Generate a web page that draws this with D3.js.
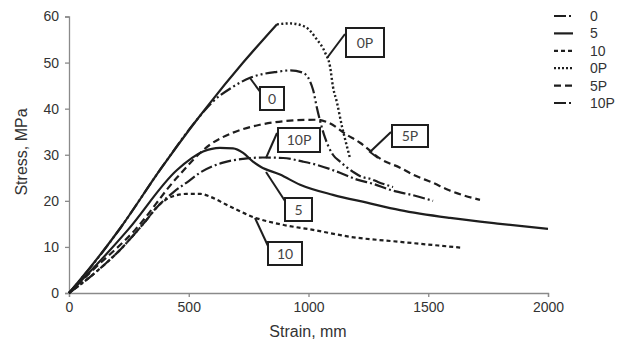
<!DOCTYPE html>
<html><head><meta charset="utf-8">
<script src="https://cdn.jsdelivr.net/npm/d3@7"></script>
<style>
html,body{margin:0;padding:0;background:#fff;}
svg{display:block;}
</style></head>
<body><svg id="chart" width="630" height="343"></svg>
<script>
// ---- data ----
const seriesNames = ["0", "5", "10", "0P", "5P", "10P"];
const strain0 = [0,100,213,380,534,600,680,756,868,923,977,1019,1035,1069,1102,1132,1186,1223,1257,1290,1353];
const stress0 = [0,6.2,14,26.7,37.6,41.5,44.6,46.7,48.0,48.3,47.8,44.1,40.2,33.7,30.0,28.5,26.3,25.2,24.8,24.1,23.0];
const strain5 = [0,100,246,451,560,630,685,727,768,800,881,965,1102,1244,1382,1591,1800,2000];
const stress5 = [0,5.3,13.7,26.7,30.7,31.5,31.4,30.4,28.5,27.4,25.7,23.5,21.3,19.6,18.0,16.3,15.0,13.9];
const strain10 = [0,100,225,310,380,434,490,550,589,660,768,893,1019,1173,1382,1645];
const stress10 = [0,4,10,15,19.3,21.0,21.5,21.5,20.9,19.1,16.5,14.8,13.7,12.2,11.1,9.8];
const strain0P = [0,100,213,380,534,576,727,868,923,985,1035,1069,1090,1102,1119,1140,1161,1173];
const stress0P = [0,6.3,14,26.7,37.6,40.4,50,58.3,58.5,57.8,55,52.2,49.1,44.8,41.3,36.1,31.7,29.3];
const strain5P = [0,100,276,450,589,685,797,923,1035,1081,1161,1215,1307,1382,1436,1520,1582,1716];
const stress5P = [0,5,13.7,25,32.2,34.8,36.5,37.4,37.6,37.0,34.3,32.6,28.9,27.2,25.7,23.9,22.4,20.2];
const strain10P = [0,100,225,310,380,434,500,547,643,727,810,894,977,1035,1131,1203,1269,1340,1445,1520];
const stress10P = [0,4,10,15,19.3,21.8,24.3,26.1,28.3,29.1,29.4,29.3,28.5,27.8,26.1,24.6,23.7,22.4,21.1,20.0];
const xTicks = [0, 500, 1000, 1500, 2000];
const yTicks = [0, 10, 20, 30, 40, 50, 60];
const calloutLabels = ["0P", "0", "10P", "5P", "5", "10"];

// ---- styles ----
const dashes = {
  "0": "12,3,2,3,2,3",
  "5": null,
  "10": "4,3",
  "0P": "2,2.4",
  "5P": "7,4",
  "10P": "12,3,2,3"
};
const legendDash = {"0":"12,3,2,3","5":null,"10":"4,3","0P":"2,2","5P":"7,4","10P":"12,3,2,3"};
const solidUntil = {"0P": 868}; // drawn solid on loading branch

const seriesData = {
  "0": strain0.map((s,i)=>({x:s,y:stress0[i]})),
  "5": strain5.map((s,i)=>({x:s,y:stress5[i]})),
  "10": strain10.map((s,i)=>({x:s,y:stress10[i]})),
  "0P": strain0P.map((s,i)=>({x:s,y:stress0P[i]})),
  "5P": strain5P.map((s,i)=>({x:s,y:stress5P[i]})),
  "10P": strain10P.map((s,i)=>({x:s,y:stress10P[i]}))
};

const svg = d3.select("#chart");
const x = d3.scaleLinear().domain([0, 2000]).range([69, 548]);
const y = d3.scaleLinear().domain([0, 60]).range([293, 16.5]);
const font = "'Liberation Sans', Arial, sans-serif";

// axes
const gx = svg.append("g").attr("transform", `translate(0,${y(0)})`)
  .call(d3.axisBottom(x).tickValues(xTicks).tickSize(4).tickPadding(5).tickFormat(d3.format("d")));
const gy = svg.append("g").attr("transform", `translate(${x(0)},0)`)
  .call(d3.axisLeft(y).tickValues(yTicks).tickSize(4).tickPadding(6).tickFormat(d3.format("d")));
[gx, gy].forEach(g => {
  g.select(".domain").attr("stroke", "#8a8a8a").attr("stroke-width", 1.3);
  g.selectAll(".tick line").attr("stroke", "#8a8a8a").attr("stroke-width", 1.3);
  g.selectAll(".tick text").attr("fill", "#333").style("font-family", font).style("font-size", "14px");
});

svg.append("text").attr("x", 308).attr("y", 337).attr("text-anchor", "middle")
  .style("font-family", font).style("font-size", "16px").attr("fill", "#333").text("Strain, mm");
svg.append("text").attr("transform", "translate(27,152) rotate(-90)").attr("text-anchor", "middle")
  .style("font-family", font).style("font-size", "16px").attr("fill", "#333").text("Stress, MPa");

// lines
const line = d3.line().x(d => x(d.x)).y(d => y(d.y)).curve(d3.curveMonotoneX);
seriesNames.forEach(name => {
  const data = seriesData[name];
  if (solidUntil[name] !== undefined) {
    const cut = solidUntil[name];
    const a = data.filter(d => d.x <= cut);
    const b = data.filter(d => d.x >= cut);
    svg.append("path").attr("d", line(a)).attr("fill", "none").attr("stroke", "#1e1e1e").attr("stroke-width", 2.2);
    svg.append("path").attr("d", line(b)).attr("fill", "none").attr("stroke", "#1e1e1e").attr("stroke-width", 2.4)
      .attr("stroke-dasharray", dashes[name]);
  } else {
    svg.append("path").attr("d", line(data)).attr("fill", "none").attr("stroke", "#1e1e1e")
      .attr("stroke-width", 2.2).attr("stroke-dasharray", dashes[name]);
  }
});

// callouts (box position and leader line endpoints in pixels)
const calloutGeom = {
  "0P": {box:[346,28,38,29], lead:[[345,34],[327,58]]},
  "0": {box:[260,87,24,23], lead:[[250,78],[261,93]]},
  "10P": {box:[278,128,42,24], lead:[[277,133],[266,158]]},
  "5P": {box:[392,125,36,22], lead:[[391,132],[370,152],[378,158]]},
  "5": {box:[285,198,27,23], lead:[[266,172],[285,201]]},
  "10": {box:[268,242,34,23], lead:[[255,218],[268,246]]}
};
calloutLabels.forEach(lab => {
  const g = calloutGeom[lab];
  svg.append("path").attr("d", d3.line()(g.lead)).attr("fill", "none").attr("stroke", "#1e1e1e").attr("stroke-width", 2);
  const [bx, by, bw, bh] = g.box;
  svg.append("rect").attr("x", bx).attr("y", by).attr("width", bw).attr("height", bh)
    .attr("fill", "#fff").attr("stroke", "#1e1e1e").attr("stroke-width", 2);
  svg.append("text").attr("x", bx + bw/2).attr("y", by + bh/2 + 5).attr("text-anchor", "middle")
    .style("font-family", "Lato, 'Open Sans', sans-serif").style("font-size", "14px").attr("fill", "#444").text(lab);
});

// legend
const leg = svg.append("g");
seriesNames.forEach((name, i) => {
  const yy = 16 + i * 17.4;
  leg.append("line").attr("x1", 554).attr("x2", 573).attr("y1", yy).attr("y2", yy)
    .attr("stroke", "#1e1e1e").attr("stroke-width", 2.2).attr("stroke-dasharray", legendDash[name]);
  leg.append("text").attr("x", 590).attr("y", yy + 5).style("font-family", font).style("font-size", "14px")
    .attr("fill", "#333").text(name);
});
</script>
</body></html>
